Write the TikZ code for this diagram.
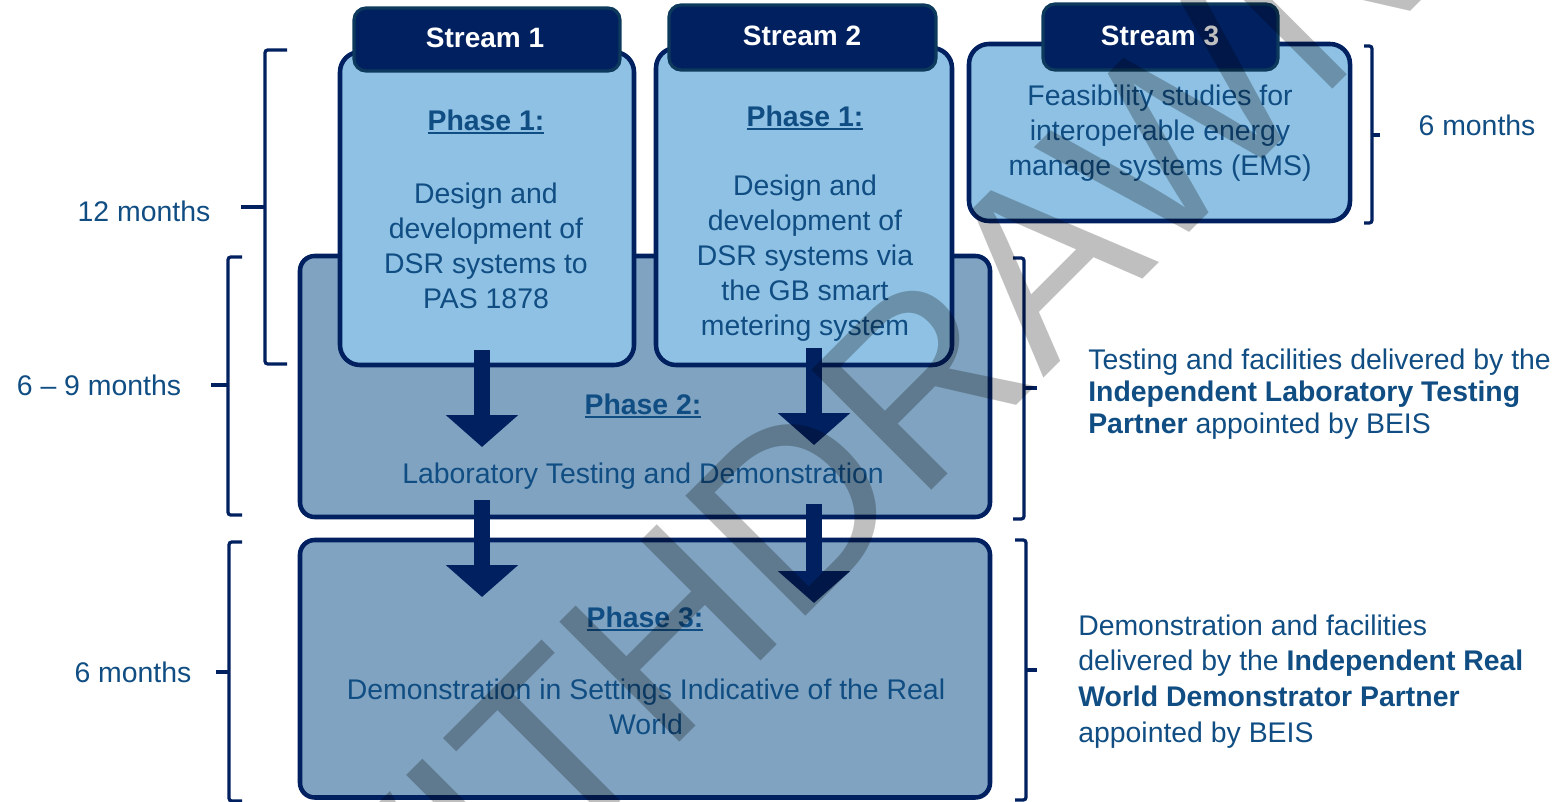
\documentclass[tikz,border=0pt]{standalone}
\usepackage{fontspec}
\setmainfont{Liberation Sans}
\usetikzlibrary{arrows.meta}
\definecolor{navy}{HTML}{002060}
\definecolor{hdrline}{HTML}{0D3A5C}
\definecolor{lightfill}{HTML}{8EC1E3}
\definecolor{midfill}{HTML}{7FA3C0}
\definecolor{txtblue}{HTML}{104D83}
\newcommand\phul[1]{\setbox0=\hbox{#1}\rlap{\rule[-3.2pt]{\wd0}{1.6pt}}\box0}
\begin{document}
\begin{tikzpicture}[x=0.75pt,y=-0.75pt,
  phasebox/.style={draw=navy, fill=midfill, line width=3.4pt, rounded corners=11pt, inner sep=0pt},
  streambox/.style={draw=navy, fill=lightfill, line width=3.4pt, rounded corners=15pt, inner sep=0pt},
  headbox/.style={draw=hdrline, fill=navy, line width=2.4pt, rounded corners=9pt, inner sep=0pt},
  headtxt/.style={text=white, font=\bfseries\fontsize{21}{25}\selectfont, inner sep=0pt},
  bodytxt/.style={text=txtblue, font=\fontsize{21.3}{26.3}\selectfont, align=center, inner sep=0pt},
  phasetxt/.style={text=txtblue, font=\bfseries\fontsize{21.3}{26.3}\selectfont, inner sep=0pt},
  blockarrow/.style={draw=navy, line width=11.5pt, -{Triangle[width=53pt,length=24pt]}},
  bracket/.style={draw=navy, line width=2.4pt, rounded corners=2pt}]
\useasboundingbox (0,0) rectangle (1562,802);

% phase boxes
\node[phasebox, minimum width=690*0.75pt, minimum height=261*0.75pt] (p2) at (645,386.5) {};
\node[phasebox, minimum width=690*0.75pt, minimum height=257.5*0.75pt] (p3) at (645,668.75) {};

% stream boxes
\node[streambox, minimum width=294*0.75pt, minimum height=313*0.75pt] (s1) at (487,208.5) {};
\node[streambox, minimum width=296*0.75pt, minimum height=317*0.75pt] (s2) at (804,206.5) {};
\node[streambox, minimum width=381*0.75pt, minimum height=177*0.75pt] (s3) at (1159.5,132.5) {};

% headers
\node[headbox, minimum width=266*0.75pt, minimum height=63*0.75pt] (h1) at (487,39.5) {};
\node[headbox, minimum width=267*0.75pt, minimum height=65*0.75pt] (h2) at (802.5,37.5) {};
\node[headbox, minimum width=235*0.75pt, minimum height=66*0.75pt] (h3) at (1160.5,37) {};
\node[headtxt] (h1t) at (485,38) {Stream 1};
\node[headtxt] (h2t) at (802,36) {Stream 2};
\node[headtxt] (h3t) at (1160,36) {Stream 3};

% texts in boxes
\node[phasetxt] (s1p) at (486,122) {\phul{Phase 1:}};
\node[bodytxt] (s1b) at (486,245.5) {Design and\\development of\\DSR systems to\\PAS 1878};
\node[phasetxt] (s2p) at (805,118) {\phul{Phase 1:}};
\node[bodytxt] (s2b) at (805,258) {Design and\\development of\\DSR systems via\\the GB smart\\metering system};
\node[bodytxt] (s3b) at (1160,133) {Feasibility studies for\\interoperable energy\\manage systems (EMS)};
\node[phasetxt] (p2p) at (643,406) {\phul{Phase 2:}};
\node[bodytxt] (p2b) at (643,476) {Laboratory Testing and Demonstration};
\node[phasetxt] (p3p) at (645,619) {\phul{Phase 3:}};
\node[bodytxt] (p3b) at (646,707) {Demonstration in Settings Indicative of the Real\\World};

% arrows
\coordinate (a1s) at (482,350); \coordinate (a1e) at (482,447);
\coordinate (a2s) at (814,348); \coordinate (a2e) at (814,445);
\coordinate (a3s) at (482,500); \coordinate (a3e) at (482,597);
\coordinate (a4s) at (814,504); \coordinate (a4e) at (814,603);
\draw[blockarrow] (a1s) -- (a1e);
\draw[blockarrow] (a2s) -- (a2e);
\draw[blockarrow] (a3s) -- (a3e);
\draw[blockarrow] (a4s) -- (a4e);

% brackets left
\draw[bracket] (287,50) -- (265,50) -- (265,364) -- (287,364);
\draw[bracket] (265,207) -- (241,207);
\draw[bracket] (242,257) -- (228,257) -- (228,515) -- (242,515);
\draw[bracket] (228,385) -- (211,385);
\draw[bracket] (242,542) -- (229,542) -- (229,801) -- (242,801);
\draw[bracket] (229,672) -- (216,672);
% brackets right
\draw[bracket] (1364,46) -- (1372,46) -- (1372,223) -- (1364,223);
\draw[bracket] (1372,135) -- (1380,135);
\draw[bracket] (1013,258) -- (1024,258) -- (1024,519) -- (1013,519);
\draw[bracket] (1024,388) -- (1037,388);
\draw[bracket] (1015,540) -- (1026,540) -- (1026,800) -- (1015,800);
\draw[bracket] (1026,670) -- (1037,670);

% side labels
\node[bodytxt] (l1) at (144,211) {12 months};
\node[bodytxt] (l2) at (99,385) {6 -- 9 months};
\node[bodytxt] (l3) at (133,672) {6 months};
\node[bodytxt] (r0) at (1477,125) {6 months};
\node[bodytxt, align=left, anchor=west, font=\fontsize{21.3}{24}\selectfont] (r1) at (1088,394)
  {Testing and facilities delivered by the\\\textbf{Independent Laboratory Testing}\\\textbf{Partner} appointed by BEIS};
\node[bodytxt, align=left, anchor=west, font=\fontsize{21.3}{26.8}\selectfont] (r2) at (1078,681.5)
  {Demonstration and facilities\\delivered by the \textbf{Independent Real}\\\textbf{World Demonstrator Partner}\\appointed by BEIS};

% watermark
\begin{scope}
\clip (0,0) rectangle (1562,802);
\node[rotate=45, text=black, text opacity=0.25, font=\fontsize{185}{185}\selectfont, inner sep=0pt] (wm) at (835,467) {WITHDRAWN};
\end{scope}
\end{tikzpicture}
\end{document}
